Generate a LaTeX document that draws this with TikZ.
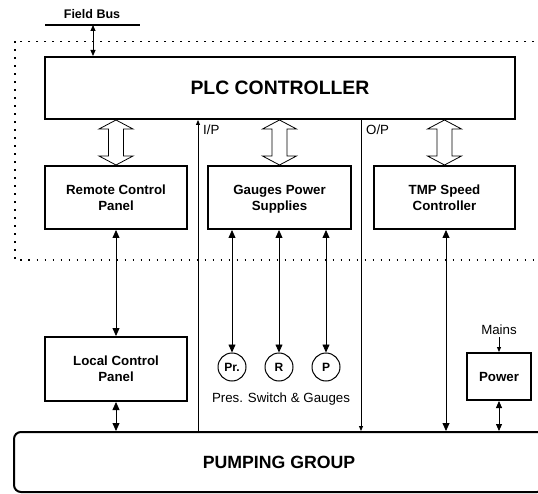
\documentclass[tikz,border=0pt]{standalone}
\usepackage{fontspec}
\setmainfont{Liberation Sans}
\usetikzlibrary{arrows.meta,calc}

\tikzset{
  box/.style={draw, line width=2pt, fill=white, align=center, inner sep=0pt,
    text depth=0pt, font=\bfseries\fontsize{13.3}{16}\selectfont},
  gauge/.style={draw, circle, line width=1pt, minimum size=28pt, inner sep=0pt,
    font=\bfseries\fontsize{12}{14}\selectfont},
  plain/.style={inner sep=0pt, font=\fontsize{13.3}{16}\selectfont},
  link/.style={line width=0.8pt},
  >={Triangle[length=8pt,width=7pt]},
  smalltip/.style={-{Triangle[length=5pt,width=4pt]}},
  bustip/.style={{Triangle[length=6pt,width=5pt]}-{Triangle[length=6pt,width=5pt]}},
}

% double-headed hollow arrow between two points (top, bottom)
\newcommand\hollowlink[2]{%
  \draw[line width=0.8pt, fill=white, line join=miter]
    (#1) -- ++(17,9) -- ++(-9.5,0) -- ($(#2)+(7.5,-9)$) -- ++(9.5,0) -- (#2)
    -- ++(-17,-9) -- ++(9.5,0) -- ($(#1)+(-7.5,9)$) -- ++(-9.5,0) -- cycle;}

\begin{document}
\begin{tikzpicture}[x=1pt, y=-1pt]
\useasboundingbox (0,0) rectangle (538,494);

% dotted enclosure of the control cabinet
\draw[line width=1.6pt, dash pattern=on 1.6pt off 6.4pt]
  (15,41.5) rectangle (620,260);

% field bus
\node[inner sep=0pt, font=\bfseries\fontsize{12.5}{14}\selectfont] (fbl) at (92,14) {Field Bus};
\coordinate (fbA) at (45,25);
\coordinate (fbB) at (140,25);
\coordinate (fb) at (93,25);
\draw[line width=1.6pt] (fbA) -- (fbB);

% main boxes
\node[box, minimum width=470pt, minimum height=62pt,
  font=\bfseries\fontsize{19.4}{22}\selectfont] (plc) at (280,88) {PLC CONTROLLER};
\node[box, minimum width=142pt, minimum height=63pt] (rcp) at (116,197.5) {Remote Control\\Panel};
\node[box, minimum width=143pt, minimum height=63pt] (gps) at (279.5,197.5) {Gauges Power\\Supplies};
\node[box, minimum width=141pt, minimum height=63pt] (tmp) at (444.5,197.5) {TMP Speed\\Controller};
\node[box, minimum width=142pt, minimum height=64pt] (lcp) at (116,369) {Local Control\\Panel};
\node[box, minimum width=64pt, minimum height=47pt] (pwr) at (499,376.5) {Power};
\node[box, rounded corners=7pt, minimum width=530pt, minimum height=60pt,
  font=\bfseries\fontsize{17.7}{20}\selectfont] (pump) at (279,462) {PUMPING GROUP};

% gauges
\node[gauge] (pr) at (232,367) {Pr.};
\node[gauge] (rg) at (279,367) {R};
\node[gauge] (pg) at (326,367) {P};
\node[plain] (gl) at (281,399) {Pres. Switch \& Gauges};

\node[plain] (mains) at (499,330) {Mains};

% field bus link
\draw[link, bustip] (fb) -- (fb |- plc.north);

% hollow bus links between PLC and the panels
\hollowlink{plc.south -| rcp.north}{rcp.north}
\hollowlink{plc.south -| gps.north}{gps.north}
\hollowlink{plc.south -| tmp.north}{tmp.north}

% I/P and O/P signal lines
\coordinate (ipx) at (198,0);
\coordinate (opx) at (361,0);
\draw[link, smalltip] (pump.north -| ipx) -- (plc.south -| ipx);
\draw[link, smalltip] (plc.south -| opx) -- (pump.north -| opx);
\node[plain, anchor=west] (ipl) at (203,130) {I/P};
\node[plain, anchor=west] (opl) at (366,130) {O/P};

% panel links
\draw[link, <->] (rcp.south) -- (lcp.north);
\draw[link, <->] (lcp.south) -- (pump.north -| lcp.south);

% gauge supply links
\draw[link, <->] (gps.south -| pr.north) -- (pr.north);
\draw[link, <->] (gps.south -| rg.north) -- (rg.north);
\draw[link, <->] (gps.south -| pg.north) -- (pg.north);

% TMP controller link
\coordinate (tmpx) at (446,0);
\draw[link, <->] (tmp.south -| tmpx) -- (pump.north -| tmpx);

% power supply
\draw[link, smalltip] (mains.south) ++(0,2) -- (pwr.north);
\draw[link, {Triangle[length=7pt,width=6pt]}-{Triangle[length=7pt,width=6pt]}]
  (pwr.south) -- (pump.north -| pwr.south);
\end{tikzpicture}
\end{document}
